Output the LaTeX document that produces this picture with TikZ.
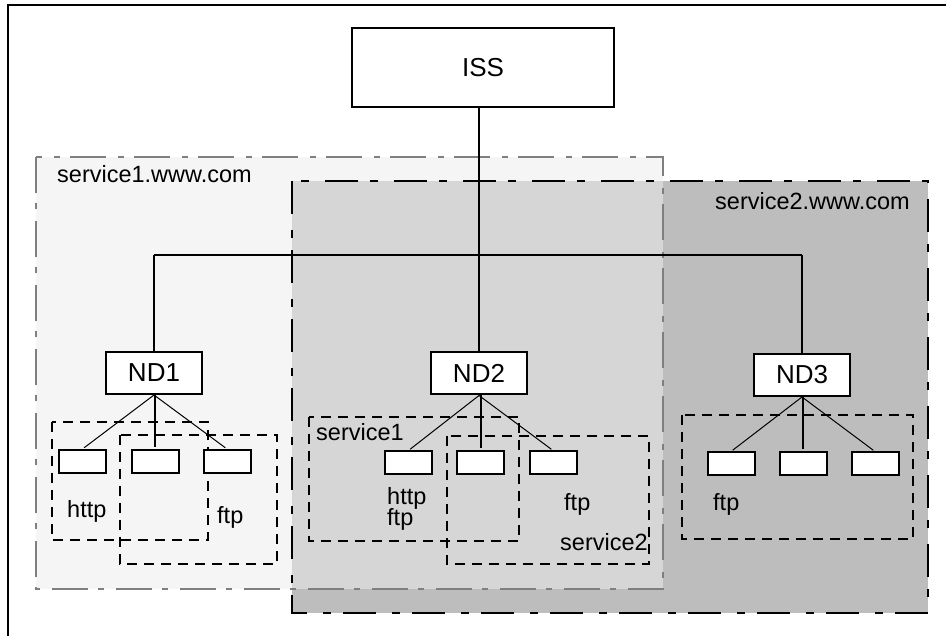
\documentclass[tikz,border=0pt]{standalone}
\usepackage{fontspec}
\setmainfont{Liberation Sans}
\definecolor{regionA}{HTML}{F5F5F5}
\definecolor{regionB}{HTML}{BDBDBD}
\definecolor{regionAB}{HTML}{D6D6D6}
\definecolor{borderA}{HTML}{7F7F7F}
\begin{document}
\begin{tikzpicture}[x=1pt,y=-1pt,
  box/.style={draw, line width=2pt, fill=white, inner sep=0pt},
  mainbox/.style={box, minimum width=262pt, minimum height=79pt, font=\fontsize{26}{30}\selectfont},
  ndbox/.style={box, minimum width=96pt, minimum height=42pt, font=\fontsize{26}{30}\selectfont},
  leaf/.style={box, minimum width=47pt, minimum height=23pt},
  wire/.style={line width=2pt},
  fan/.style={line width=1pt, shorten >=2pt},
  grp/.style={draw, line width=2pt, dash pattern=on 10pt off 7pt},
  regionborderA/.style={draw=borderA, line width=2pt, dash pattern=on 36pt off 10pt on 6pt off 12pt},
  regionborderB/.style={draw=black, line width=2pt, dash pattern=on 33pt off 16pt on 8pt off 12pt},
  lbl/.style={inner sep=0pt, anchor=base west, font=\fontsize{23.5}{27}\selectfont},
]
\useasboundingbox (0,0) rectangle (946,636);
\clip (0,0) rectangle (946,636);

% outer frame
\draw[line width=2pt] (8,5) rectangle (960,660);

% domain regions
\fill[regionA] (36,157) rectangle (663,589);
\fill[regionB] (292,181) rectangle (928,613);
\fill[regionAB] (292,181) rectangle (663,589);
\draw[regionborderA] (36,157) rectangle (663,589);
\draw[regionborderB] (292,181) rectangle (928,613);
\node[lbl] (domA) at (57,183) {service1.www.com};
\node[lbl] (domB) at (715,210) {service2.www.com};

% service groups
\draw[grp] (52,422) rectangle (208,540);
\draw[grp] (120,435) rectangle (277,564);
\draw[grp] (309,417) rectangle (519,541);
\draw[grp] (447,436) rectangle (649,564);
\draw[grp] (682,415) rectangle (913,539);

% main nodes
\node[mainbox] (ISS) at (483,67.5) {ISS};
\node[ndbox] (ND1) at (154,373) {ND1};
\node[ndbox] (ND2) at (479,373.5) {ND2};
\node[ndbox] (ND3) at (802,375) {ND3};

% bus
\coordinate (bus) at (480,255);
\draw[wire] (ND1.north |- bus) -- (ND3.north |- bus);
\draw[wire] (ND2.north |- ISS.south) -- (ND2.north);
\draw[wire] (ND1.north |- bus) -- (ND1.north);
\draw[wire] (ND3.north |- bus) -- (ND3.north);

% leaf nodes
\node[leaf] (a1) at (82.5,461.5) {};
\node[leaf] (a2) at (155,461.5) {};
\node[leaf] (a3) at (227,461.5) {};
\node[leaf] (b1) at (408.5,463) {};
\node[leaf] (b2) at (480.5,463) {};
\node[leaf] (b3) at (553,463) {};
\node[leaf] (c1) at (731,464) {};
\node[leaf] (c2) at (803,464) {};
\node[leaf] (c3) at (875,464) {};

% fan-out connectors
\foreach \p/\c in {ND1/a1,ND1/a3,ND2/b1,ND2/b3,ND3/c1,ND3/c3}
  \draw[fan] (\p.south) -- (\c.north);
\foreach \p/\c in {ND1/a2,ND2/b2,ND3/c2}
  \draw[wire, shorten >=2pt] (\c.north |- \p.south) -- (\c.north);

% service labels
\node[lbl] (t1) at (67,518) {http};
\node[lbl] (t2) at (217,523) {ftp};
\node[lbl] (t3) at (316,441) {service1};
\node[lbl] (t4) at (387,504) {http};
\node[lbl] (t5) at (387,525.5) {ftp};
\node[lbl] (t6) at (564,510) {ftp};
\node[lbl] (t7) at (560,550) {service2};
\node[lbl] (t8) at (713,511) {ftp};
\end{tikzpicture}
\end{document}
